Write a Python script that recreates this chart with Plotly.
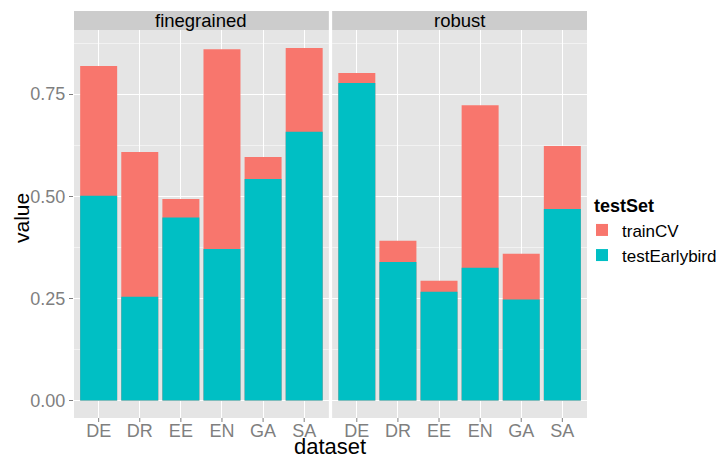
import plotly.graph_objects as go
from plotly.subplots import make_subplots

datasets = ["DE", "DR", "EE", "EN", "GA", "SA"]
panels = ["finegrained", "robust"]
trainCV_fine = [0.819, 0.608, 0.493, 0.860, 0.596, 0.863]
test_fine = [0.501, 0.254, 0.448, 0.371, 0.542, 0.658]
trainCV_robust = [0.802, 0.391, 0.293, 0.723, 0.359, 0.623]
test_robust = [0.777, 0.339, 0.266, 0.325, 0.247, 0.469]
y_ticks = [0.0, 0.25, 0.5, 0.75]

RED = "#F8766D"
TEAL = "#00BFC4"
FONT = "Liberation Sans, Arial, sans-serif"

W, H = 720, 460
ML, MR, MT, MB = 74, 133, 30, 42
PW = W - ML - MR
PH = H - MT - MB

fig = make_subplots(rows=1, cols=2, shared_yaxes=True, horizontal_spacing=3.3 / PW)

series = [(trainCV_fine, test_fine), (trainCV_robust, test_robust)]
for i, (tr, te) in enumerate(series):
    col = i + 1
    fig.add_trace(go.Bar(x=datasets, y=tr, name="trainCV", marker_color=RED,
                         marker_line_width=0, showlegend=(i == 0), legendgroup="trainCV"),
                  row=1, col=col)
    fig.add_trace(go.Bar(x=datasets, y=te, name="testEarlybird", marker_color=TEAL,
                         marker_line_width=0, showlegend=(i == 0), legendgroup="test"),
                  row=1, col=col)

fig.update_layout(
    width=W, height=H, margin=dict(l=ML, r=MR, t=MT, b=MB, autoexpand=False),
    paper_bgcolor="white", plot_bgcolor="#E5E5E5",
    barmode="overlay", bargap=0.1,
    font=dict(family=FONT, size=18, color="black"),
    legend=dict(x=(582 - ML) / PW, y=1 - (189 - MT) / PH, xanchor="left", yanchor="top",
                title=dict(text="&nbsp;&nbsp;<b>testSet</b>", font=dict(size=18, color="black")),
                font=dict(size=17, color="black"), tracegroupgap=0,
                itemwidth=30, bgcolor="rgba(0,0,0,0)"),
)

for k in (1, 2):
    fig.update_xaxes(row=1, col=k, type="category", range=[-0.6, 5.6],
                     showgrid=True, gridcolor="white", gridwidth=1.2,
                     ticks="", tickfont=dict(size=18, color="#7F7F7F"), zeroline=False,
                     showline=False)
    fig.update_yaxes(row=1, col=k, range=[-0.043, 0.907], tickmode="array",
                     tickvals=y_ticks, tickformat=".2f",
                     showgrid=True, gridcolor="white", gridwidth=1.2,
                     minor=dict(tickmode="array", tickvals=[0.125, 0.375, 0.625, 0.875],
                                showgrid=True, gridcolor="#F2F2F2", gridwidth=0.6),
                     zeroline=False, showline=False)
fig.update_yaxes(row=1, col=1, ticks="outside", ticklen=4, tickcolor="#7F7F7F",
                 tickfont=dict(size=18, color="#7F7F7F"))
fig.update_yaxes(row=1, col=2, showticklabels=False, ticks="")

# x tick marks (drawn at category positions, below each panel)
for k in (1, 2):
    xr = "x" if k == 1 else "x2"
    for d in datasets:
        fig.add_shape(type="line", xref=xr, yref="y domain", x0=d, x1=d,
                      y0=0, y1=-4 / PH, line=dict(color="#7F7F7F", width=1))

strip_h = 19 / PH
for k, name in enumerate(panels):
    xr = "x" if k == 0 else "x2"
    fig.add_shape(type="rect", xref=f"{xr} domain", yref="y domain",
                  x0=0, x1=1, y0=1, y1=1 + strip_h,
                  fillcolor="#CCCCCC", line_width=0, layer="below")
    fig.add_annotation(xref=f"{xr} domain", yref="y domain", x=0.5, y=1 + strip_h / 2,
                       text=name, showarrow=False, yanchor="middle",
                       font=dict(size=18.5, color="black"))

fig.add_annotation(xref="paper", yref="paper", x=(330 - ML) / PW, y=-(460 - (H - MB)) / PH,
                   text="dataset", showarrow=False, xanchor="center", yanchor="bottom",
                   borderpad=0, font=dict(size=22, color="black"))
fig.add_annotation(xref="paper", yref="paper", x=(21 - ML) / PW, y=1 - (218 - MT) / PH,
                   text="value", showarrow=False, textangle=-90,
                   xanchor="center", yanchor="middle",
                   font=dict(size=21, color="black"))

fig.write_html("out.html")
